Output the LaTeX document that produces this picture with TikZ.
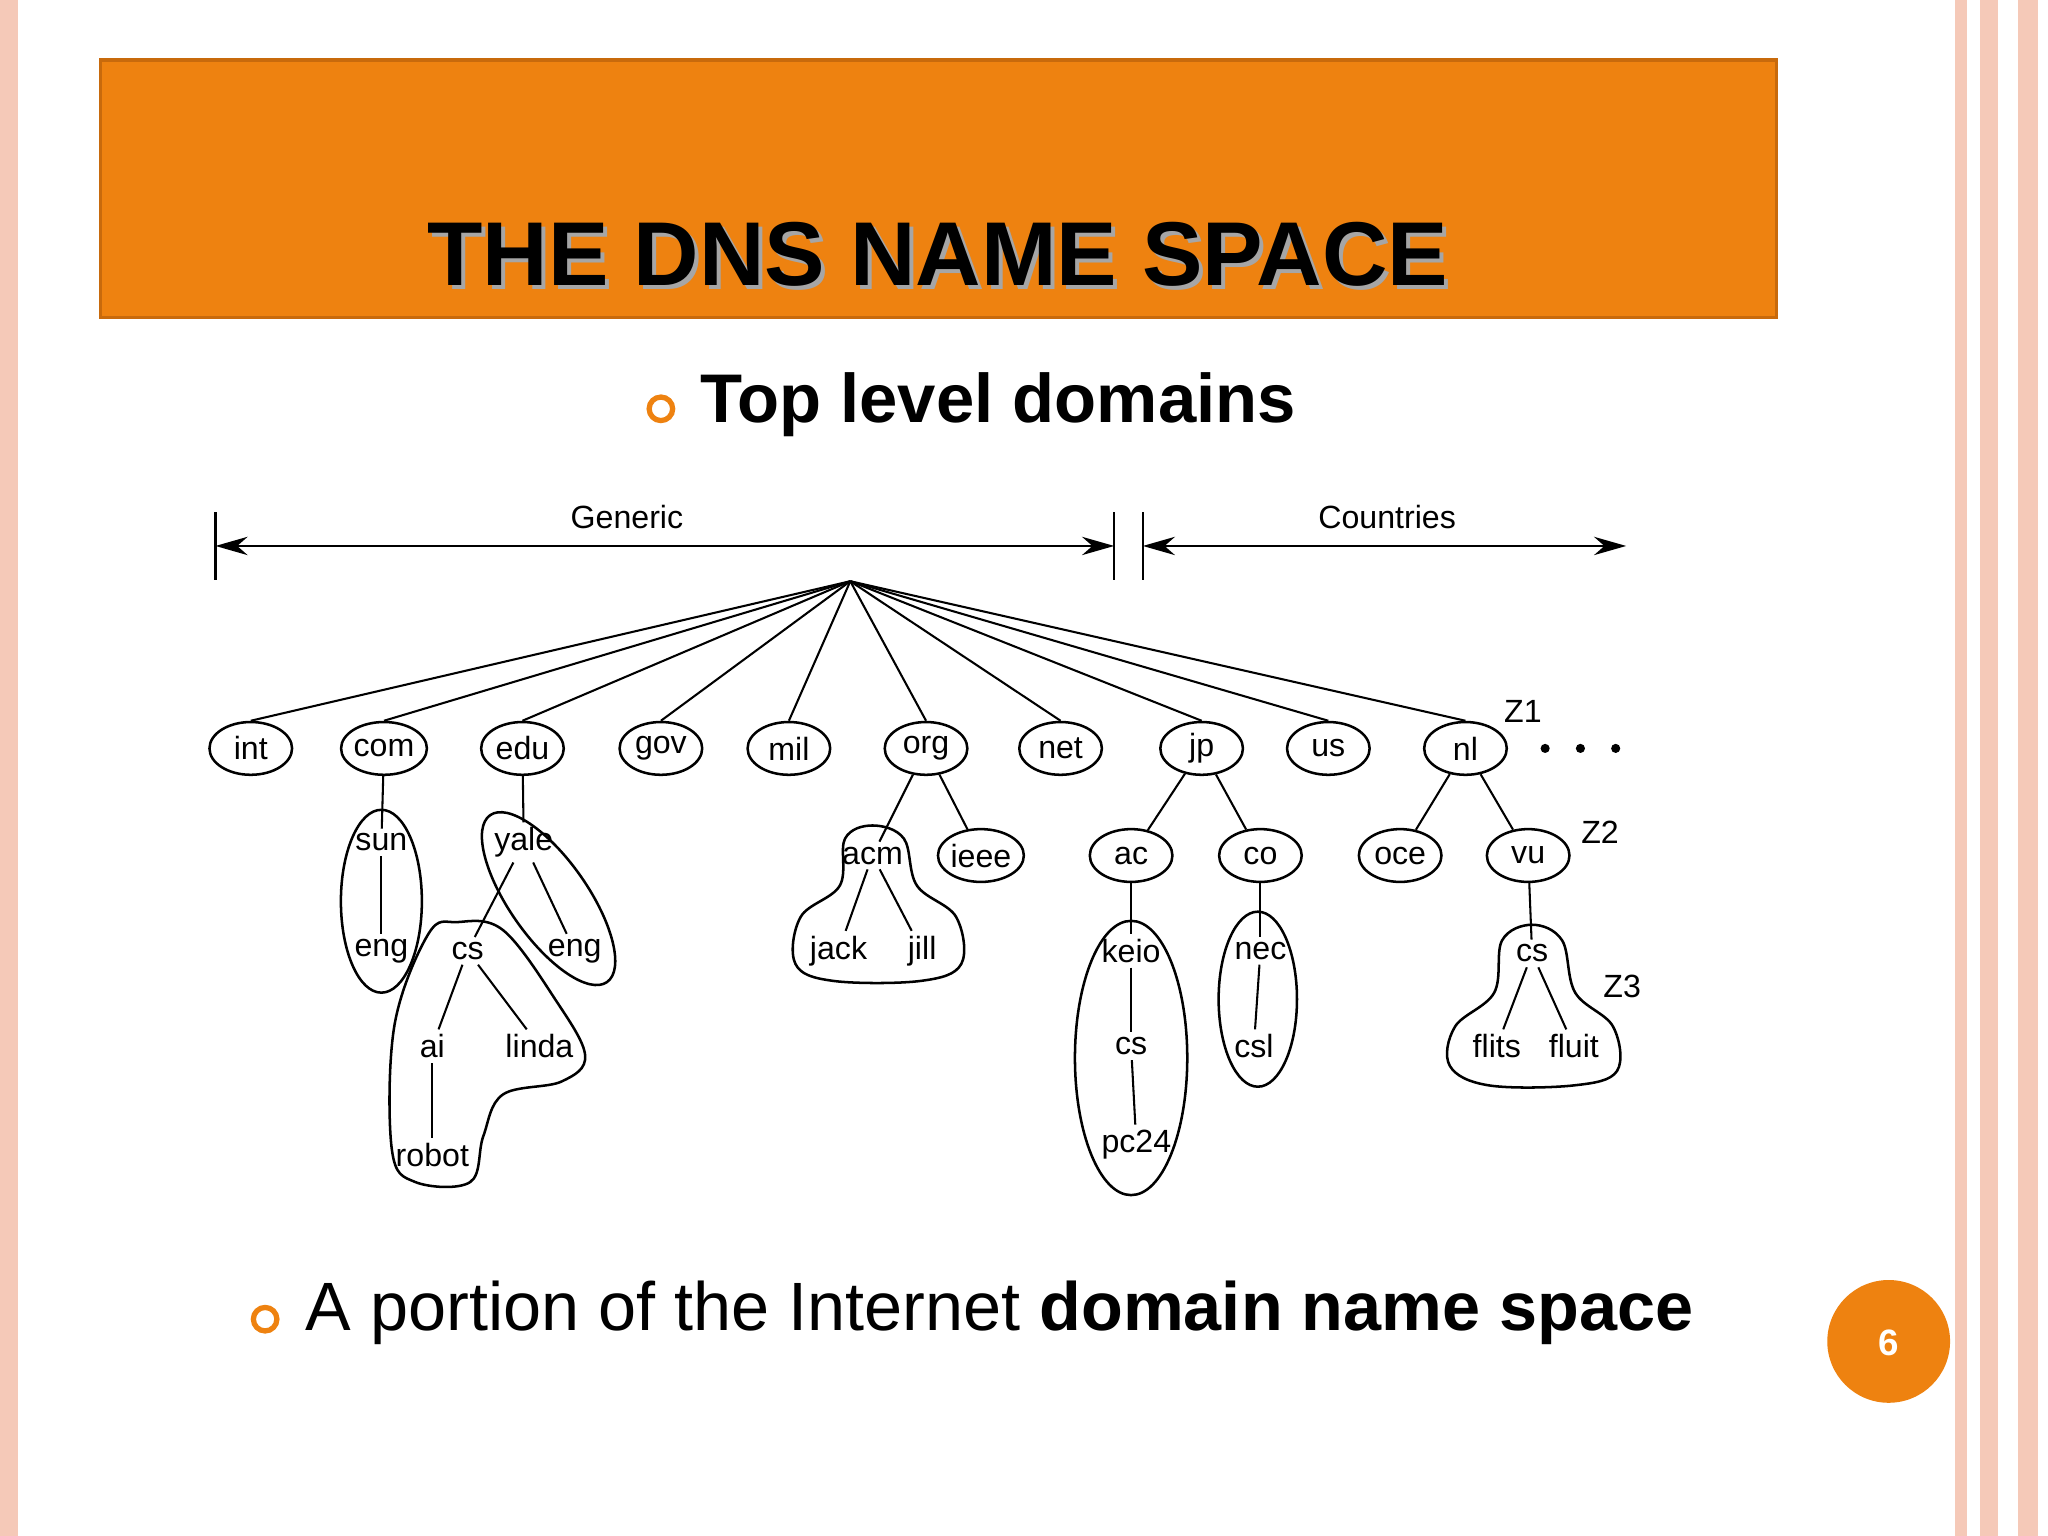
\documentclass[tikz,border=0pt]{standalone}
\usepackage{fontspec}
\setmainfont{Liberation Sans}
\usetikzlibrary{shapes.geometric,arrows.meta}
\definecolor{org}{HTML}{EE8210}
\definecolor{orgd}{HTML}{C86A0C}
\definecolor{pinkb}{HTML}{F5C9B8}
\tikzset{
 top/.style={ellipse,draw,line width=1.1pt,minimum width=36pt,minimum height=23pt,inner sep=0pt,font=\fontsize{14}{14}\selectfont},
 lab/.style={inner sep=2pt,font=\fontsize{14}{14}\selectfont},
 ln/.style={line width=0.9pt},
 encl/.style={line width=1.1pt},
 ring/.style={draw=org,line width=2.3pt}
}
\begin{document}
\begin{tikzpicture}[x=0.02cm,y=-0.02cm]
\useasboundingbox (0,0) rectangle (1568,1176);
\fill[white] (0,0) rectangle (1568,1176);
% borders
\fill[pinkb] (0,0) rectangle (14,1176);
\fill[pinkb] (1497,0) rectangle (1506,1176);
\fill[pinkb] (1516,0) rectangle (1530,1176);
\fill[pinkb] (1545,0) rectangle (1560,1176);
% title
\draw[fill=org,draw=orgd,line width=1.6pt] (77,46) rectangle (1360,243);
\node[text=black!35,font=\bfseries\fontsize{39.5}{40}\selectfont] at (721,198) {THE DNS NAME SPACE};
\node (title) [font=\bfseries\fontsize{39.5}{40}\selectfont] at (718,195) {THE DNS NAME SPACE};
% bullets
\draw[ring] (506,313) circle (9);
\node (tld) [anchor=west,font=\bfseries\fontsize{30}{30}\selectfont] at (530,310) {Top level domains};
\draw[ring] (203,1010) circle (9);
\node (cap) [anchor=west,font=\fontsize{29.8}{30}\selectfont] at (228,1005) {A portion of the Internet \textbf{domain name space}};
% page number
\fill[org] (1446,1027) circle (47);
\node (pg) [text=white,font=\bfseries\fontsize{16}{16}\selectfont] at (1446,1028) {6};
% arrows
\coordinate (g1) at (165,418); \coordinate (g2) at (853,418);
\coordinate (c1) at (875,418); \coordinate (c2) at (1245,418);
\draw[ln] (165,392) -- (165,444); \draw[ln] (853,392) -- (853,444); \draw[ln] (875,392) -- (875,444);
\draw[ln,{Stealth[length=14pt,width=8pt]}-{Stealth[length=14pt,width=8pt]}] (g1) -- (g2);
\draw[ln,{Stealth[length=14pt,width=8pt]}-{Stealth[length=14pt,width=8pt]}] (c1) -- (c2);
\node (gen) [lab] at (480,396) {Generic};
\node (cty) [lab] at (1062,396) {Countries};
% tree
\coordinate (root) at (651,445);
\foreach \n/\x in {int/192,com/294,edu/400,gov/506,mil/604,org/709,net/812,jp/920,us/1017,nl/1122}{
  \node (\n) [top] at (\x,573) {\n};
  \draw[ln] (root) -- (\n.north);
}
\foreach \x in {1183,1210,1237} \fill (\x,573) circle (3.5);
\node (z1) [lab] at (1166,545) {Z1};
\node (z2) [lab] at (1225,637) {Z2};
\node (z3) [lab] at (1242,755) {Z3};
% com
\node (sun) [lab] at (292,645) {sun};
\node (eng1) [lab] at (292,728) {eng};
\draw[ln] (com) -- (sun); \draw[ln] (sun) -- (eng1);
\draw[encl] (292,690) ellipse [x radius=31,y radius=70];
% edu
\node (yale) [lab] at (401,645) {yale};
\node (eng2) [lab] at (440,728) {eng};
\node (cs1) [lab] at (358,728) {cs};
\node (ai) [lab] at (331,801) {ai};
\node (linda) [lab] at (413,801) {linda};
\node (robot) [lab] at (331,884) {robot};
\draw[ln] (edu) -- (yale); \draw[ln] (yale) -- (eng2); \draw[ln] (yale) -- (cs1);
\draw[ln] (cs1) -- (ai); \draw[ln] (cs1) -- (linda); \draw[ln] (ai) -- (robot);
\draw[encl,rotate around={-55:(420,688)}] (420,688) ellipse [x radius=78,y radius=30];
\draw[encl] plot[smooth cycle,tension=0.6] coordinates {(350,706) (328,715) (302,785) (300,880) (318,905) (360,905) (370,870) (385,838) (430,828) (448,808) (425,765) (385,712)};
% org
\node (acm) [lab] at (668,655) {acm};
\node (ieee) [top] at (751,655) {ieee};
\node (jack) [lab] at (642,728) {jack};
\node (jill) [lab] at (706,728) {jill};
\draw[ln] (org) -- (acm); \draw[ln] (org) -- (ieee);
\draw[ln] (acm) -- (jack); \draw[ln] (acm) -- (jill);
\draw[encl] plot[smooth cycle,tension=0.6] coordinates {(668,632) (692,642) (702,678) (732,702) (736,738) (705,751) (638,751) (609,738) (613,702) (643,678) (647,642)};
% jp
\node (ac) [top] at (866,655) {ac};
\node (co) [top] at (965,655) {co};
\node (keio) [lab] at (866,728) {keio};
\node (cs2) [lab] at (866,801) {cs};
\node (pc) [lab] at (870,876) {pc24};
\node (nec) [lab] at (965,728) {nec};
\node (csl) [lab] at (960,801) {csl};
\draw[ln] (jp) -- (ac); \draw[ln] (jp) -- (co);
\draw[ln] (ac) -- (keio); \draw[ln] (keio) -- (cs2); \draw[ln] (cs2) -- (pc);
\draw[ln] (co) -- (nec); \draw[ln] (nec) -- (csl);
\draw[encl] (866,810) ellipse [x radius=43,y radius=105];
\draw[encl] (963,765) ellipse [x radius=30,y radius=67];
% nl
\node (oce) [top] at (1072,655) {oce};
\node (vu) [top] at (1170,655) {vu};
\node (cs3) [lab] at (1173,730) {cs};
\node (flits) [lab] at (1146,801) {flits};
\node (fluit) [lab] at (1205,801) {fluit};
\draw[ln] (nl) -- (oce); \draw[ln] (nl) -- (vu);
\draw[ln] (vu) -- (cs3); \draw[ln] (cs3) -- (flits); \draw[ln] (cs3) -- (fluit);
\draw[encl] plot[smooth cycle,tension=0.6] coordinates {(1173,708) (1196,720) (1206,760) (1235,786) (1238,820) (1205,831) (1140,831) (1110,816) (1114,786) (1144,760) (1150,720)};
\end{tikzpicture}
\end{document}
